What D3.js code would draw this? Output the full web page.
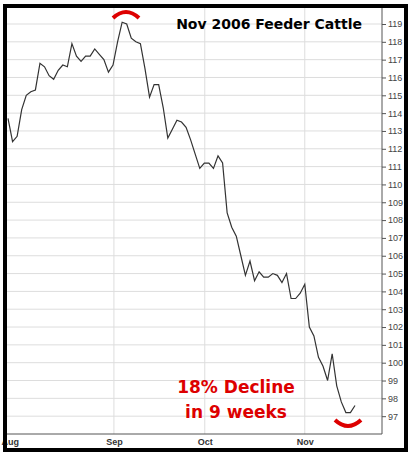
<!DOCTYPE html>
<meta charset="utf-8">
<script src="https://d3js.org/d3.v7.min.js"></script>
<style>body{margin:0;background:#fff}</style>
<div id="chart"></div>
<script>
// closing prices, one per trading day
var prices = [113.7,112.4,112.7,114.2,115.0,115.2,115.3,116.8,116.6,116.1,115.9,116.4,116.7,116.6,117.9,117.2,116.9,117.2,117.2,117.6,117.3,117.0,116.3,116.7,118.0,119.1,119.0,118.2,118.0,117.9,116.5,114.9,115.6,115.6,114.3,112.6,113.1,113.6,113.5,113.2,112.5,111.7,110.9,111.2,111.2,110.9,111.6,111.2,108.4,107.6,107.1,106.0,104.9,105.7,104.6,105.1,104.8,104.8,105.0,104.9,104.5,105.0,103.6,103.6,103.9,104.4,102.0,101.5,100.3,99.8,99.0,100.5,98.7,97.8,97.2,97.2,97.6];
var months = ["Aug","Sep","Oct","Nov"];
var monthIdx = [0.4, 23.2, 43.1, 65];
var yTicks = d3.range(97, 120);

var W = 416, H = 455;
var svg = d3.select("#chart").append("svg").attr("width", W).attr("height", H)
  .style("font-family", "Arial, 'Liberation Sans', sans-serif");

var x = d3.scaleLinear().domain([0, prices.length - 1]).range([8, 355]);
var y = d3.scaleLinear().domain([96, 119]).range([434, 24]);
var left = 7, right = 382;

// gridlines
svg.append("g").selectAll("line").data(yTicks).join("line")
  .attr("x1", left).attr("x2", right).attr("y1", d => y(d)).attr("y2", d => y(d))
  .attr("stroke", "#ddd").attr("stroke-width", 1);
svg.append("g").selectAll("line").data(monthIdx.slice(1)).join("line")
  .attr("x1", d => x(d)).attr("x2", d => x(d)).attr("y1", 8).attr("y2", 434)
  .attr("stroke", "#ddd").attr("stroke-width", 1);

// right axis
var ya = svg.append("g").attr("transform", "translate(" + right + ",0)")
  .call(d3.axisRight(y).tickValues(yTicks).tickSize(4).tickPadding(2));
ya.select(".domain").attr("stroke", "#555").attr("d", "M0,8V434");
ya.selectAll("line").attr("stroke", "#555");
ya.selectAll("text").attr("fill", "#444").style("font-size", "9px");

// bottom axis
var xa = svg.append("g").attr("transform", "translate(0,434)")
  .call(d3.axisBottom(x).tickValues(monthIdx).tickFormat((d, i) => months[i]).tickSize(0).tickPadding(5));
xa.select(".domain").attr("stroke", "#555").attr("d", "M" + left + ",0H" + right);
xa.selectAll("text").attr("fill", "#333").style("font-size", "9px").style("font-weight", "bold");

// price line
svg.append("path").datum(prices)
  .attr("fill", "none").attr("stroke", "#333").attr("stroke-width", 1.2)
  .attr("d", d3.line().x((d, i) => x(i)).y(d => y(d)));

// title and note
var bold = "'DejaVu Sans', Arial, sans-serif";
svg.append("text").attr("x", 362).attr("y", 29).attr("text-anchor", "end")
  .style("font-family", bold).style("font-size", "14px").style("font-weight", "bold").text("Nov 2006 Feeder Cattle");
svg.append("text").attr("x", 236).attr("y", 393).attr("text-anchor", "middle").attr("fill", "#d00")
  .style("font-family", bold).style("font-size", "17px").style("font-weight", "bold").text("18% Decline");
svg.append("text").attr("x", 236).attr("y", 418).attr("text-anchor", "middle").attr("fill", "#d00")
  .style("font-family", bold).style("font-size", "17px").style("font-weight", "bold").text("in 9 weeks");

// red arcs at top and bottom
svg.append("path").attr("d", "M113,18 Q126,6 139,18").attr("fill", "none").attr("stroke", "#d00").attr("stroke-width", 4);
svg.append("path").attr("d", "M335,420 Q348,432 361,420").attr("fill", "none").attr("stroke", "#d00").attr("stroke-width", 4);

// frame
svg.append("rect").attr("x", 5).attr("y", 6).attr("width", 401).attr("height", 444)
  .attr("fill", "none").attr("stroke", "#000").attr("stroke-width", 4);
</script>
